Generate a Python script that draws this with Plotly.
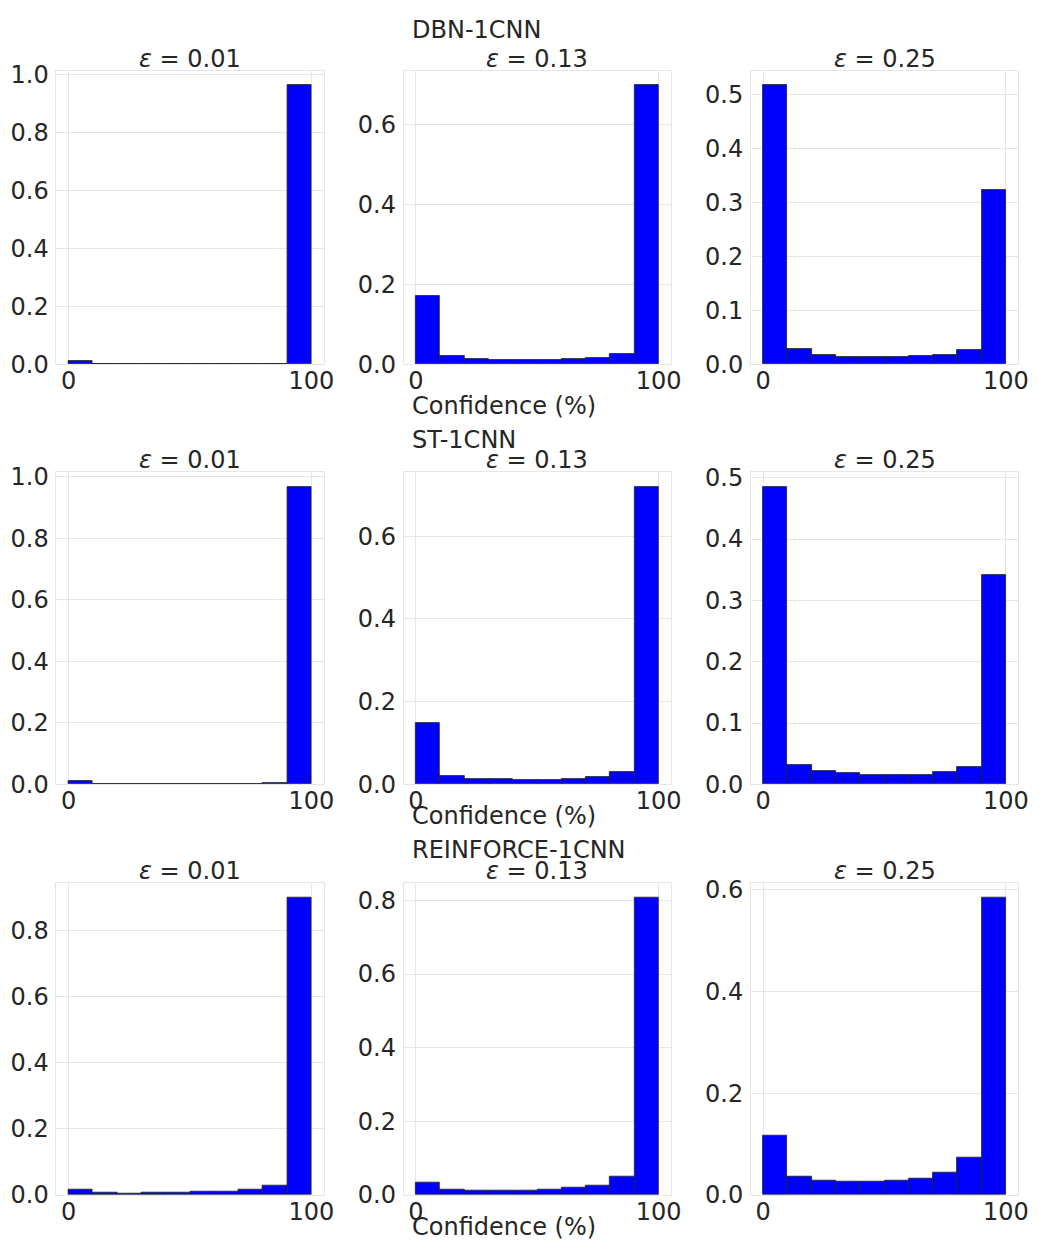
import plotly.graph_objects as go

# reference canvas size; the page body adds an 8px margin, so the figure is
# made 16px smaller and every reference pixel position is shifted by 8px.
REF_W, REF_H = 1045, 1253
OFF = 8
W, H = REF_W - 2 * OFF, REF_H - 2 * OFF

BIN_EDGES = [0, 10, 20, 30, 40, 50, 60, 70, 80, 90, 100]
MODELS = ["DBN-1CNN", "ST-1CNN", "REINFORCE-1CNN"]
EPSILONS = ["0.01", "0.13", "0.25"]

dbn_eps001 = [0.010, 0.0003, 0.0003, 0.0003, 0.0003, 0.0003, 0.0003, 0.0005, 0.002, 0.964]
dbn_eps013 = [0.170, 0.020, 0.014, 0.011, 0.011, 0.010, 0.012, 0.016, 0.025, 0.700]
dbn_eps025 = [0.518, 0.029, 0.018, 0.014, 0.013, 0.013, 0.015, 0.017, 0.027, 0.324]

st_eps001 = [0.0095, 0.001, 0.0003, 0.0003, 0.0003, 0.0005, 0.0005, 0.0005, 0.003, 0.967]
st_eps013 = [0.148, 0.021, 0.014, 0.013, 0.011, 0.011, 0.013, 0.018, 0.029, 0.719]
st_eps025 = [0.485, 0.032, 0.021, 0.018, 0.0155, 0.0155, 0.016, 0.020, 0.029, 0.342]

rf_eps001 = [0.015, 0.007, 0.005, 0.006, 0.006, 0.009, 0.010, 0.015, 0.030, 0.901]
rf_eps013 = [0.035, 0.015, 0.012, 0.012, 0.012, 0.015, 0.019, 0.026, 0.049, 0.808]
rf_eps025 = [0.117, 0.037, 0.029, 0.027, 0.026, 0.029, 0.033, 0.044, 0.074, 0.585]

HEIGHTS = [
    [dbn_eps001, dbn_eps013, dbn_eps025],
    [st_eps001, st_eps013, st_eps025],
    [rf_eps001, rf_eps013, rf_eps025],
]
YTICKS = [
    [[0, 0.2, 0.4, 0.6, 0.8, 1.0], [0, 0.2, 0.4, 0.6], [0, 0.1, 0.2, 0.3, 0.4, 0.5]],
    [[0, 0.2, 0.4, 0.6, 0.8, 1.0], [0, 0.2, 0.4, 0.6], [0, 0.1, 0.2, 0.3, 0.4, 0.5]],
    [[0, 0.2, 0.4, 0.6, 0.8], [0, 0.2, 0.4, 0.6, 0.8], [0, 0.2, 0.4, 0.6]],
]
XTICKS = [0, 100]

# layout in reference pixels
COL_PX = [(57, 327), (408, 678), (759, 1029)]
ROW_PX = [(62, 361), (471, 789.5), (889.7, 1208.3)]
EPS_TITLE_Y = [50, 459, 878]
NAME_Y = [20, 438, 856]
XLABEL_Y = [404, 822, 1241]
NAME_X = 414

FONT = "DejaVu Sans"
TXT = "#262626"
GRID = "#e6e6e6"
FS = 24


def px_x(x):
    return (x - OFF) / W


def px_y(y):
    return 1 - (y - OFF) / H


centers = [(BIN_EDGES[i] + BIN_EDGES[i + 1]) / 2 for i in range(len(BIN_EDGES) - 1)]
widths = [BIN_EDGES[i + 1] - BIN_EDGES[i] for i in range(len(BIN_EDGES) - 1)]

fig = go.Figure()
annotations = []
layout_axes = {}
k = 0
for r in range(3):
    for c in range(3):
        k += 1
        xa = "x" if k == 1 else f"x{k}"
        ya = "y" if k == 1 else f"y{k}"
        vals = HEIGHTS[r][c]
        fig.add_trace(go.Bar(
            x=centers, y=vals, width=widths,
            marker=dict(color="#0000ff", line=dict(color="#222222", width=0.8)),
            xaxis=xa, yaxis=ya, showlegend=False,
        ))
        x0, x1 = COL_PX[c]
        y0, y1 = ROW_PX[r]
        span = BIN_EDGES[-1] - BIN_EDGES[0]
        xr = [BIN_EDGES[0] - 0.05 * span, BIN_EDGES[-1] + 0.05 * span]
        ymax = max(vals) * 1.05
        layout_axes["xaxis" if k == 1 else f"xaxis{k}"] = dict(
            domain=[px_x(x0), px_x(x1)], anchor=ya, range=xr,
            tickvals=XTICKS, ticktext=[str(v) for v in XTICKS],
            showgrid=True, gridcolor=GRID, gridwidth=1,
            showline=True, linecolor=GRID, linewidth=1, mirror=True,
            zeroline=False, ticks="", ticklabelstandoff=-5,
            tickfont=dict(family=FONT, size=FS, color=TXT),
        )
        layout_axes["yaxis" if k == 1 else f"yaxis{k}"] = dict(
            domain=[px_y(y1), px_y(y0)], anchor=xa, range=[0, ymax],
            tickvals=YTICKS[r][c], tickformat=".1f",
            showgrid=True, gridcolor=GRID, gridwidth=1,
            showline=True, linecolor=GRID, linewidth=1, mirror=True,
            zeroline=False, ticks="", ticklabelstandoff=2,
            tickfont=dict(family=FONT, size=FS, color=TXT),
        )
        annotations.append(dict(
            text=f"<i>ε</i> = {EPSILONS[c]}", x=px_x((x0 + x1) / 2), y=px_y(EPS_TITLE_Y[r]),
            xref="paper", yref="paper", xanchor="center", yanchor="middle",
            showarrow=False, font=dict(family=FONT, size=FS, color=TXT),
        ))
    annotations.append(dict(
        text=MODELS[r], x=px_x(NAME_X), y=px_y(NAME_Y[r]),
        xref="paper", yref="paper", xanchor="left", yanchor="middle",
        showarrow=False, font=dict(family=FONT, size=FS, color=TXT),
    ))
    annotations.append(dict(
        text="Confidence (%)", x=px_x(NAME_X), y=px_y(XLABEL_Y[r]),
        xref="paper", yref="paper", xanchor="left", yanchor="middle",
        showarrow=False, font=dict(family=FONT, size=FS, color=TXT),
    ))

fig.update_layout(
    width=W, height=H,
    margin=dict(l=0, r=0, t=0, b=0),
    paper_bgcolor="white", plot_bgcolor="white",
    bargap=0, annotations=annotations,
    **layout_axes,
)
fig.write_html("out.html")
